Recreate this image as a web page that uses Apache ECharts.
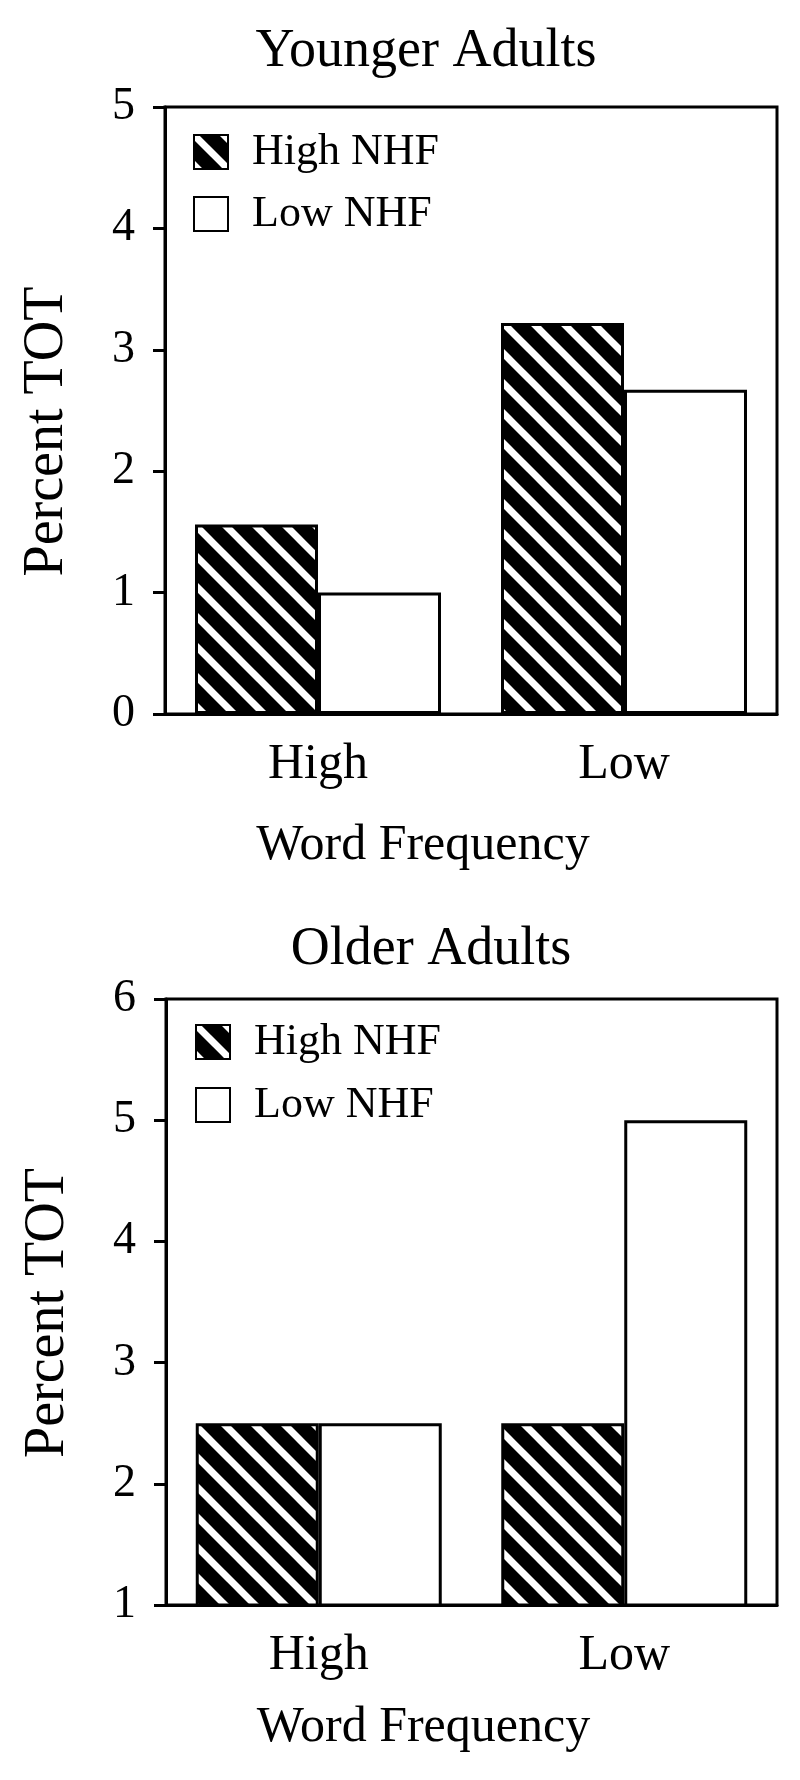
<!DOCTYPE html>
<html>
<head>
<meta charset="utf-8">
<script src="https://cdn.jsdelivr.net/npm/echarts@6/dist/echarts.min.js"></script>
<style>
  html, body { margin: 0; padding: 0; background: #fff; }
  #chart { width: 800px; height: 1780px; }
</style>
</head>
<body>
<div id="chart"></div>
<script>
// ---- data ----
const categories = ['High', 'Low'];
const seriesNames = ['High NHF', 'Low NHF'];
const youngHighNHF = [1.56, 3.22];
const youngLowNHF = [1.0, 2.67];
const olderHighNHF = [2.5, 2.5];
const olderLowNHF = [2.5, 5.0];
const youngYRange = [0, 5, 1];   // min, max, interval
const olderYRange = [1, 6, 1];
const titles = ['Younger Adults', 'Older Adults'];
const xName = 'Word Frequency';
const yName = 'Percent TOT';

// ---- hatch pattern (black with white "\" stripes) ----
function makeHatch() {
  const s = 30;
  const c = document.createElement('canvas');
  c.width = s; c.height = s;
  const ctx = c.getContext('2d');
  ctx.fillStyle = '#000';
  ctx.fillRect(0, 0, s, s);
  ctx.strokeStyle = '#fff';
  ctx.lineWidth = 7;
  for (const k of [-1, 0, 1]) {
    ctx.beginPath();
    ctx.moveTo(k * s - 6, -6);
    ctx.lineTo(k * s + s + 6, s + 6);
    ctx.stroke();
  }
  return c;
}
const hatch = { image: makeHatch(), repeat: 'repeat' };

const FONT = 'Liberation Serif';
const txt = (size, extra) => Object.assign({ fontFamily: FONT, fontSize: size, color: '#000', fontWeight: 'normal' }, extra || {});

const grids = [
  { left: 165, top: 107, width: 612, height: 607 },
  { left: 166, top: 999, width: 611, height: 606 }
];

function xAxisFor(i, nameGap) {
  return {
    type: 'category', gridIndex: i, data: categories,
    axisLine: { lineStyle: { color: '#000', width: 3 } },
    axisTick: { alignWithLabel: true, length: 16, lineStyle: { color: '#000', width: 3 } },
    axisLabel: { margin: 26, ...txt(50) },
    name: xName, nameLocation: 'middle', nameGap: nameGap,
    nameTextStyle: txt(50, { padding: [0, 96, 0, 0] }),
    splitLine: { show: false }
  };
}
function yAxisFor(i, range, shiftPad) {
  return {
    type: 'value', gridIndex: i, min: range[0], max: range[1], interval: range[2],
    axisLine: { show: true, lineStyle: { color: '#000', width: 3 } },
    axisTick: { show: true, length: 12, lineStyle: { color: '#000', width: 3 } },
    axisLabel: { margin: 30, ...txt(46) },
    splitLine: { show: false },
    name: yName, nameLocation: 'middle', nameGap: 90,
    nameTextStyle: txt(56, { padding: [0, shiftPad, 0, 0] })
  };
}
function barSeries(name, data, axisIdx, hatched) {
  return {
    type: 'bar', name: name, data: data,
    xAxisIndex: axisIdx, yAxisIndex: axisIdx,
    barWidth: 123, barGap: '0%',
    itemStyle: { color: hatched ? hatch : '#fff', borderColor: '#000', borderWidth: 3 },
    emphasis: { disabled: true },
    animation: false
  };
}
function legendFor(top, gap, left) {
  return {
    data: seriesNames.map(n => ({ name: n, icon: 'rect' })),
    orient: 'vertical', left: left, top: top, padding: 0,
    itemWidth: 34, itemHeight: 34, itemGap: gap, selectedMode: false,
    textStyle: txt(44, { lineHeight: 46, padding: [0, 0, 0, 19] })
  };
}

const option = {
  backgroundColor: '#fff',
  animation: false,
  title: [
    { text: titles[0], left: 426, top: 25, textAlign: 'center', padding: 0, textStyle: txt(54) },
    { text: titles[1], left: 431, top: 923, textAlign: 'center', padding: 0, textStyle: txt(54) }
  ],
  legend: [legendFor(129, 16, 193), legendFor(1019, 17, 195)],
  grid: grids.map(g => Object.assign({ show: true, borderColor: '#000', borderWidth: 3, backgroundColor: 'transparent' }, g)),
  xAxis: [xAxisFor(0, 107), xAxisFor(1, 98)],
  yAxis: [yAxisFor(0, youngYRange, 42), yAxisFor(1, olderYRange, 22)],
  series: [
    barSeries(seriesNames[0], youngHighNHF, 0, true),
    barSeries(seriesNames[1], youngLowNHF, 0, false),
    barSeries(seriesNames[0], olderHighNHF, 1, true),
    barSeries(seriesNames[1], olderLowNHF, 1, false)
  ]
};

const chart = echarts.init(document.getElementById('chart'), null, { renderer: 'canvas' });
chart.setOption(option);
</script>
</body>
</html>
